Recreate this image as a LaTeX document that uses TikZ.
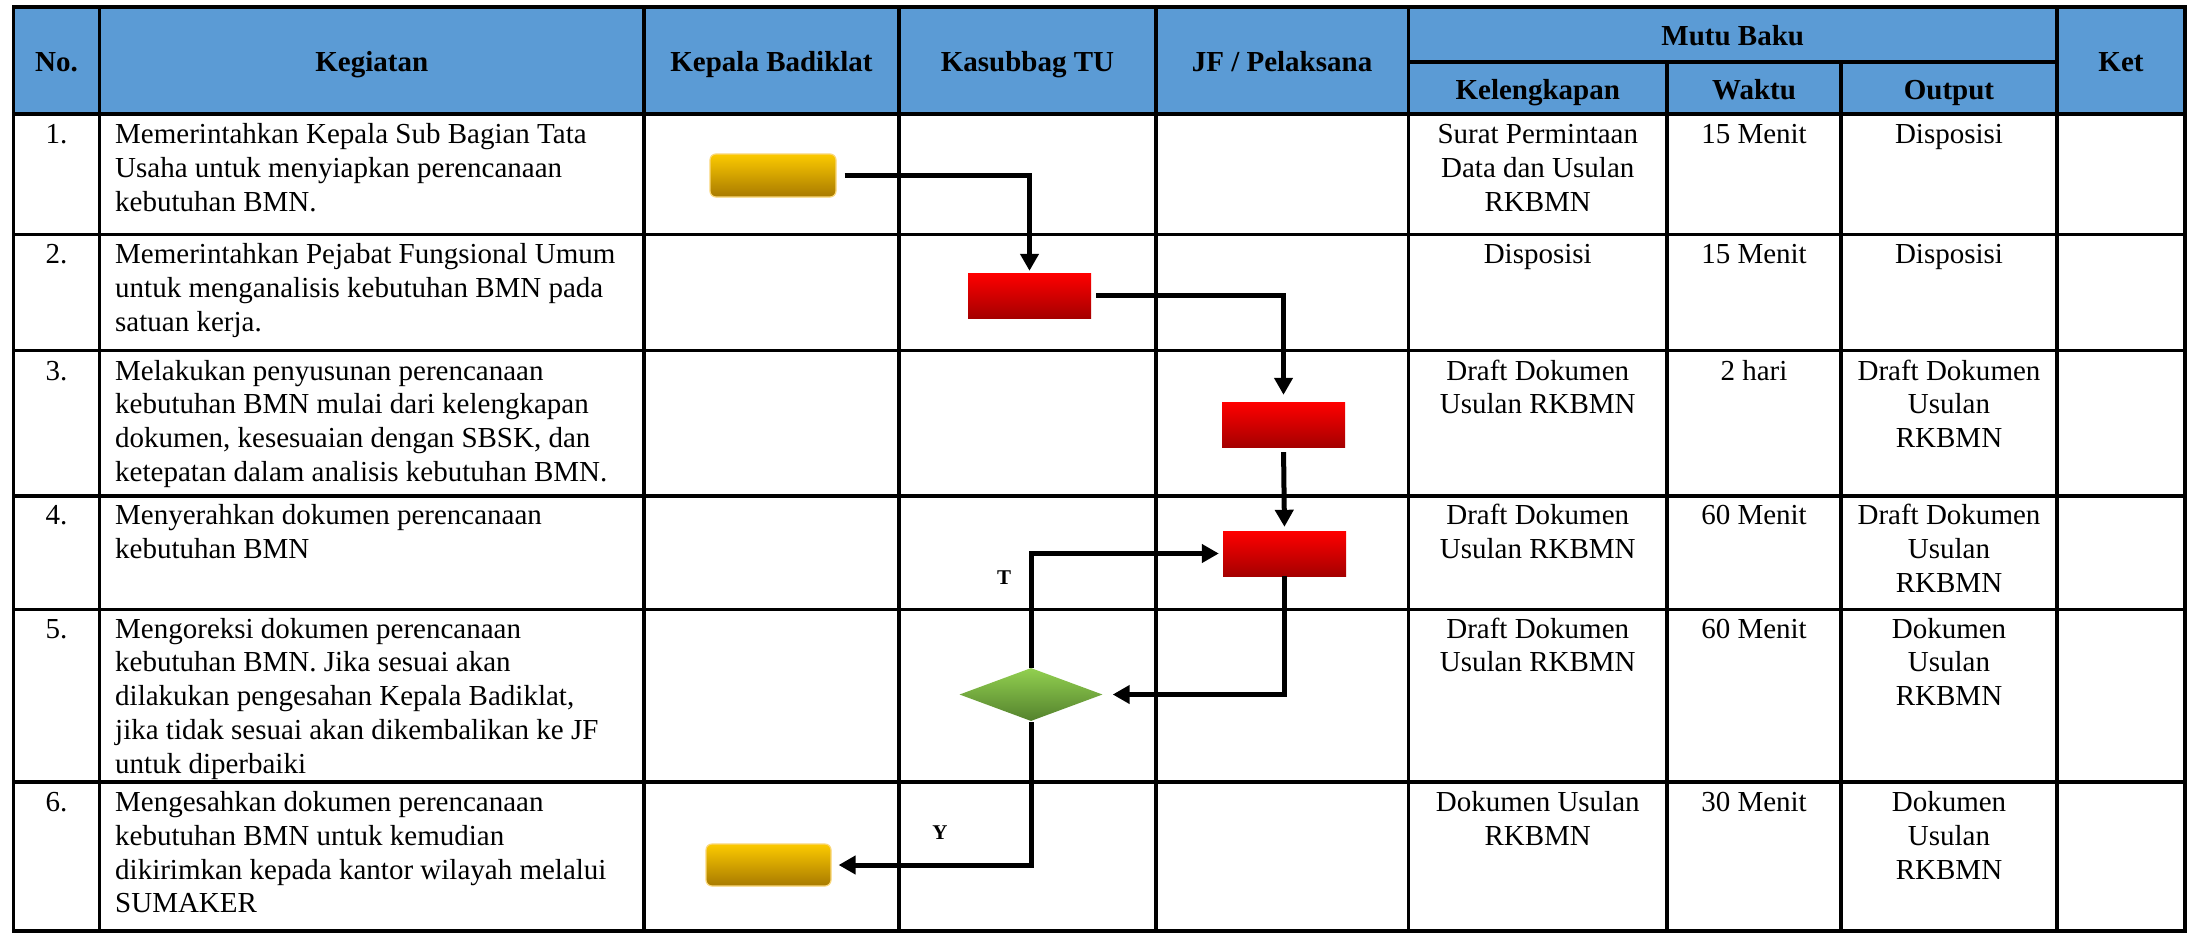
\documentclass[tikz,border=0pt]{standalone}
\usepackage{fontspec}
\setmainfont{Liberation Serif}
\usetikzlibrary{arrows.meta,shapes.geometric}
\definecolor{hdr}{RGB}{91,155,213}
\definecolor{ytop}{RGB}{252,202,0}
\definecolor{ybot}{RGB}{168,122,0}
\definecolor{yedge}{RGB}{250,215,120}
\definecolor{rtop}{RGB}{255,0,0}
\definecolor{rbot}{RGB}{165,0,0}
\definecolor{gtop}{RGB}{146,208,80}
\definecolor{gbot}{RGB}{84,130,45}
\newcommand\ltx[1]{\begin{tabular}[t]{@{}l@{}}#1\end{tabular}}
\newcommand\ctx[1]{\begin{tabular}[t]{@{}c@{}}#1\end{tabular}}
\begin{document}
\begin{tikzpicture}[x=1pt,y=-1pt,
  gridline/.style={line width=3.3pt,line cap=rect},
  body/.style={inner sep=0pt,font=\fontsize{29}{33.8}\selectfont,anchor=base},
  bodyl/.style={body,anchor=base west},
  head/.style={inner sep=0pt,font=\fontsize{29}{33.8}\selectfont\bfseries,anchor=base},
  term/.style={rounded corners=6pt,minimum width=126pt,minimum height=43pt,inner sep=0pt,
    top color=ytop,bottom color=ybot,draw=yedge,line width=1.2pt},
  proc/.style={minimum width=123pt,minimum height=45pt,inner sep=0pt,top color=rtop,bottom color=rbot},
  dec/.style={diamond,minimum width=143pt,minimum height=53pt,inner sep=0pt,top color=gtop,bottom color=gbot},
  arr/.style={line width=5pt,-{Triangle[width=18pt,length=17pt]}},
  lbl/.style={inner sep=0pt,font=\fontsize{21}{24}\selectfont\bfseries}
]
\useasboundingbox (0,0) rectangle (2189,935);
\fill[white] (0,0) rectangle (2189,935);
% header background
\fill[hdr] (13.5,7) rectangle (2185,114);
% grid
\foreach \yy in {114,234.5,350.5,496,609.5,782}
  \draw[gridline] (13.5,\yy) -- (2185,\yy);
\draw[gridline] (1408.5,62) -- (2057,62);
\foreach \xx in {99.5,644,899,1156,1408.5,2057}
  \draw[gridline] (\xx,7) -- (\xx,931);
\foreach \xx in {1667,1841}
  \draw[gridline] (\xx,62) -- (\xx,931);
\draw[gridline] (13.5,7) rectangle (2185,931);

% header texts
\node[head] (hno) at (56.5,71.5) {No.};
\node[head] (hkeg) at (371.75,71.5) {Kegiatan};
\node[head] (hkb) at (771.5,71.5) {Kepala Badiklat};
\node[head] (hks) at (1027.5,71.5) {Kasubbag TU};
\node[head] (hjf) at (1282,71.5) {JF / Pelaksana};
\node[head] (hmb) at (1732.75,45) {Mutu Baku};
\node[head] (hkel) at (1537.75,99.5) {Kelengkapan};
\node[head] (hwak) at (1754,99.5) {Waktu};
\node[head] (hout) at (1949,99.5) {Output};
\node[head] (hket) at (2121,71.5) {Ket};

% row 1
\node[body] (n1) at (56.5,143.5) {1.};
\node[bodyl] (k1) at (115,143.5) {\ltx{Memerintahkan Kepala Sub Bagian Tata\\Usaha untuk menyiapkan perencanaan\\kebutuhan BMN.}};
\node[body] (l1) at (1537.75,143.5) {\ctx{Surat Permintaan\\Data dan Usulan\\RKBMN}};
\node[body] (w1) at (1754,143.5) {15 Menit};
\node[body] (o1) at (1949,143.5) {Disposisi};
% row 2
\node[body] (n2) at (56.5,263.5) {2.};
\node[bodyl] (k2) at (115,263.5) {\ltx{Memerintahkan Pejabat Fungsional Umum\\untuk menganalisis kebutuhan BMN pada\\satuan kerja.}};
\node[body] (l2) at (1537.75,263.5) {Disposisi};
\node[body] (w2) at (1754,263.5) {15 Menit};
\node[body] (o2) at (1949,263.5) {Disposisi};
% row 3
\node[body] (n3) at (56.5,380) {3.};
\node[bodyl] (k3) at (115,380) {\ltx{Melakukan penyusunan perencanaan\\kebutuhan BMN mulai dari kelengkapan\\dokumen, kesesuaian dengan SBSK, dan\\ketepatan dalam analisis kebutuhan BMN.}};
\node[body] (l3) at (1537.75,380) {\ctx{Draft Dokumen\\Usulan RKBMN}};
\node[body] (w3) at (1754,380) {2 hari};
\node[body] (o3) at (1949,380) {\ctx{Draft Dokumen\\Usulan\\RKBMN}};
% row 4
\node[body] (n4) at (56.5,524.5) {4.};
\node[bodyl] (k4) at (115,524.5) {\ltx{Menyerahkan dokumen perencanaan\\kebutuhan BMN}};
\node[body] (l4) at (1537.75,524.5) {\ctx{Draft Dokumen\\Usulan RKBMN}};
\node[body] (w4) at (1754,524.5) {60 Menit};
\node[body] (o4) at (1949,524.5) {\ctx{Draft Dokumen\\Usulan\\RKBMN}};
% row 5
\node[body] (n5) at (56.5,638) {5.};
\node[bodyl] (k5) at (115,638) {\ltx{Mengoreksi dokumen perencanaan\\kebutuhan BMN. Jika sesuai akan\\dilakukan pengesahan Kepala Badiklat,\\jika tidak sesuai akan dikembalikan ke JF\\untuk diperbaiki}};
\node[body] (l5) at (1537.75,638) {\ctx{Draft Dokumen\\Usulan RKBMN}};
\node[body] (w5) at (1754,638) {60 Menit};
\node[body] (o5) at (1949,638) {\ctx{Dokumen\\Usulan\\RKBMN}};
% row 6
\node[body] (n6) at (56.5,811.5) {6.};
\node[bodyl] (k6) at (115,811.5) {\ltx{Mengesahkan dokumen perencanaan\\kebutuhan BMN untuk kemudian\\dikirimkan kepada kantor wilayah melalui\\SUMAKER}};
\node[body] (l6) at (1537.75,811.5) {\ctx{Dokumen Usulan\\RKBMN}};
\node[body] (w6) at (1754,811.5) {30 Menit};
\node[body] (o6) at (1949,811.5) {\ctx{Dokumen\\Usulan\\RKBMN}};

% flow shapes
\node[term] (y1) at (773,175.5) {};
\node[proc] (r2) at (1029.5,295.5) {};
\node[proc] (r3) at (1283.5,424.5) {};
\node[proc] (r4) at (1284.5,553.5) {};
\node[dec] (d) at (1031,694.5) {};
\node[term,minimum width=125pt,minimum height=42pt] (y2) at (768.5,865) {};

% connectors
\draw[arr,shorten <=8pt,shorten >=2pt] (y1.east) -| (r2.north);
\draw[arr,shorten <=5pt,shorten >=7pt] (r2.east) -| (r3.north);
\draw[arr,shorten <=5pt,shorten >=4pt] (r3.south) -- (r4.north);
\draw[arr,shorten >=10pt] (r4.south) |- (d.east);
\draw[arr,shorten >=4pt] (d.north) |- (r4.west);
\draw[arr,shorten <=1pt,shorten >=7pt] (d.south) |- (y2.east);

\node[lbl] (tl) at (1004,578) {T};
\node[lbl] (yl) at (940,833) {Y};
\end{tikzpicture}
\end{document}
